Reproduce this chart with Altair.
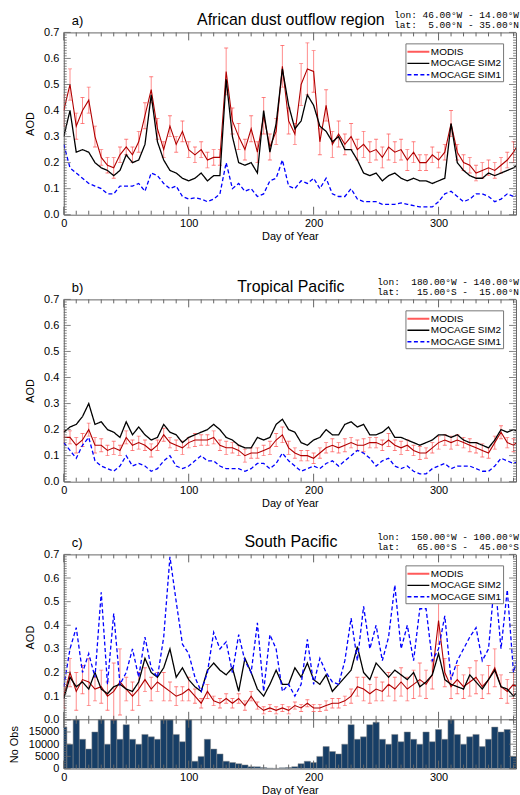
import altair as alt
import pandas as pd

# ---------------- data ----------------
DAYS = list(range(0, 366, 5))
SERIES = ["MODIS", "MOCAGE SIM2", "MOCAGE SIM1"]
SERIES_COLORS = ["#ff4a4a", "#000000", "#0000ff"]
SERIES_DASHES = [[1, 0], [1, 0], [4, 2.5]]

# a) African dust outflow region
A_MODIS = [0.40, 0.50, 0.34, 0.40, 0.44, 0.30, 0.22, 0.19, 0.18, 0.23,
           0.26, 0.23, 0.28, 0.38, 0.48, 0.33, 0.25, 0.34, 0.27, 0.32,
           0.25, 0.23, 0.25, 0.21, 0.22, 0.22, 0.55, 0.36, 0.30, 0.25,
           0.33, 0.24, 0.38, 0.26, 0.32, 0.57, 0.36, 0.31, 0.50, 0.56,
           0.55, 0.28, 0.42, 0.27, 0.31, 0.27, 0.30, 0.25, 0.27, 0.24,
           0.25, 0.22, 0.26, 0.24, 0.25, 0.21, 0.24, 0.20, 0.20, 0.23,
           0.21, 0.24, 0.35, 0.24, 0.20, 0.19, 0.16, 0.17, 0.18, 0.17,
           0.19, 0.21, 0.24, 0.28]
A_SIM2 = [0.30, 0.40, 0.24, 0.25, 0.24, 0.20, 0.18, 0.17, 0.15, 0.17,
          0.23, 0.20, 0.21, 0.27, 0.46, 0.28, 0.21, 0.17, 0.16, 0.14,
          0.13, 0.14, 0.16, 0.13, 0.15, 0.15, 0.52, 0.30, 0.20, 0.19,
          0.20, 0.16, 0.40, 0.24, 0.35, 0.56, 0.42, 0.33, 0.36, 0.46,
          0.42, 0.34, 0.32, 0.28, 0.30, 0.25, 0.25, 0.21, 0.16, 0.15,
          0.16, 0.13, 0.15, 0.16, 0.14, 0.13, 0.14, 0.13, 0.13, 0.12,
          0.13, 0.14, 0.35, 0.20, 0.17, 0.15, 0.14, 0.14, 0.16, 0.15,
          0.16, 0.17, 0.18, 0.20]
A_SIM1 = [0.27, 0.18, 0.16, 0.14, 0.12, 0.11, 0.10, 0.08, 0.08, 0.11,
          0.11, 0.11, 0.12, 0.09, 0.16, 0.15, 0.12, 0.10, 0.11, 0.07,
          0.06, 0.065, 0.06, 0.05, 0.06, 0.08, 0.20, 0.10, 0.12, 0.09,
          0.10, 0.07, 0.08, 0.13, 0.14, 0.21, 0.11, 0.10, 0.13, 0.12,
          0.14, 0.10, 0.14, 0.08, 0.07, 0.07, 0.10, 0.06, 0.05, 0.05,
          0.05, 0.04, 0.04, 0.04, 0.045, 0.04, 0.035, 0.03, 0.03, 0.03,
          0.05, 0.08, 0.09, 0.07, 0.05, 0.06, 0.08, 0.08, 0.07, 0.05,
          0.06, 0.08, 0.07, 0.08]
A_ERR = [0.06, 0.06, 0.05, 0.05, 0.05, 0.04, 0.03, 0.03, 0.04, 0.03,
         0.03, 0.03, 0.04, 0.05, 0.05, 0.04, 0.03, 0.04, 0.03, 0.04,
         0.03, 0.03, 0.03, 0.03, 0.03, 0.03, 0.09, 0.05, 0.05, 0.04,
         0.05, 0.04, 0.07, 0.05, 0.05, 0.08, 0.05, 0.04, 0.08, 0.10,
         0.08, 0.05, 0.06, 0.05, 0.05, 0.04, 0.05, 0.04, 0.05, 0.04,
         0.04, 0.04, 0.05, 0.04, 0.04, 0.04, 0.04, 0.03, 0.03, 0.03,
         0.03, 0.03, 0.05, 0.03, 0.03, 0.03, 0.03, 0.03, 0.03, 0.03,
         0.03, 0.03, 0.04, 0.04]

# b) Tropical Pacific
B_MODIS = [0.17, 0.17, 0.14, 0.16, 0.20, 0.14, 0.14, 0.12, 0.13, 0.12,
           0.17, 0.14, 0.15, 0.14, 0.12, 0.14, 0.18, 0.15, 0.14, 0.13,
           0.15, 0.16, 0.16, 0.16, 0.17, 0.14, 0.13, 0.13, 0.12, 0.10,
           0.11, 0.11, 0.12, 0.13, 0.16, 0.18, 0.13, 0.11, 0.10, 0.10,
           0.09, 0.11, 0.13, 0.14, 0.13, 0.14, 0.15, 0.14, 0.14, 0.15,
           0.15, 0.14, 0.16, 0.14, 0.13, 0.14, 0.12, 0.11, 0.11, 0.13,
           0.15, 0.16, 0.15, 0.16, 0.15, 0.14, 0.13, 0.12, 0.11, 0.15,
           0.19, 0.15, 0.14, 0.16]
B_SIM2 = [0.19, 0.21, 0.22, 0.25, 0.30, 0.22, 0.23, 0.20, 0.19, 0.17,
          0.23, 0.18, 0.21, 0.18, 0.16, 0.17, 0.22, 0.19, 0.18, 0.15,
          0.17, 0.18, 0.19, 0.20, 0.22, 0.20, 0.17, 0.16, 0.14, 0.13,
          0.13, 0.17, 0.16, 0.17, 0.22, 0.24, 0.20, 0.19, 0.15, 0.14,
          0.16, 0.17, 0.20, 0.18, 0.18, 0.22, 0.23, 0.21, 0.22, 0.18,
          0.18, 0.19, 0.21, 0.17, 0.17, 0.16, 0.15, 0.14, 0.15, 0.16,
          0.18, 0.18, 0.17, 0.18, 0.16, 0.15, 0.15, 0.14, 0.13, 0.16,
          0.20, 0.19, 0.20, 0.19]
B_SIM1 = [0.15, 0.12, 0.09, 0.14, 0.17, 0.08, 0.06, 0.05, 0.04, 0.06,
          0.10, 0.06, 0.07, 0.06, 0.04, 0.05, 0.08, 0.10, 0.06, 0.05,
          0.06, 0.08, 0.10, 0.08, 0.08, 0.06, 0.05, 0.05, 0.05, 0.04,
          0.05, 0.07, 0.07, 0.05, 0.07, 0.11, 0.08, 0.06, 0.04, 0.05,
          0.06, 0.05, 0.07, 0.08, 0.06, 0.08, 0.10, 0.12, 0.11, 0.09,
          0.06, 0.08, 0.09, 0.06, 0.05, 0.06, 0.04, 0.03, 0.03, 0.05,
          0.06, 0.07, 0.05, 0.06, 0.06, 0.06, 0.05, 0.04, 0.04, 0.06,
          0.09, 0.08, 0.07, 0.08]
B_ERR = [0.025, 0.025, 0.03, 0.025, 0.025, 0.03, 0.025, 0.02, 0.025, 0.02,
         0.025, 0.02, 0.025, 0.02, 0.025, 0.02, 0.025, 0.02, 0.02, 0.025,
         0.02, 0.025, 0.02, 0.02, 0.025, 0.02, 0.025, 0.02, 0.02, 0.025,
         0.02, 0.02, 0.02, 0.025, 0.025, 0.03, 0.025, 0.02, 0.02, 0.02,
         0.02, 0.02, 0.02, 0.025, 0.02, 0.025, 0.02, 0.02, 0.025, 0.02,
         0.02, 0.02, 0.025, 0.02, 0.025, 0.02, 0.02, 0.025, 0.02, 0.02,
         0.025, 0.02, 0.025, 0.02, 0.02, 0.025, 0.02, 0.025, 0.02, 0.025,
         0.025, 0.02, 0.025, 0.02]

# c) South Pacific
C_MODIS = [0.10, 0.20, 0.12, 0.17, 0.16, 0.13, 0.14, 0.10, 0.12, 0.16,
           0.13, 0.10, 0.13, 0.17, 0.13, 0.16, 0.14, 0.12, 0.10, 0.11,
           0.13, 0.10, 0.07, 0.12, 0.08, 0.07, 0.09, 0.07, 0.09, 0.06,
           0.10, 0.06, 0.04, 0.05, 0.04, 0.05, 0.04, 0.06, 0.05, 0.07,
           0.05, 0.05, 0.06, 0.07, 0.07, 0.08, 0.10, 0.14, 0.13, 0.11,
           0.13, 0.12, 0.15, 0.13, 0.16, 0.13, 0.15, 0.17, 0.15, 0.19,
           0.42, 0.20, 0.14, 0.17, 0.14, 0.16, 0.18, 0.14, 0.17, 0.22,
           0.14, 0.12, 0.15, 0.13]
C_SIM2 = [0.09, 0.18, 0.14, 0.16, 0.13, 0.20, 0.13, 0.11, 0.14, 0.15,
          0.13, 0.12, 0.16, 0.26, 0.20, 0.18, 0.22, 0.30, 0.18, 0.22,
          0.17, 0.14, 0.12, 0.21, 0.24, 0.21, 0.19, 0.22, 0.12, 0.26,
          0.20, 0.13, 0.10, 0.15, 0.21, 0.15, 0.15, 0.22, 0.18, 0.24,
          0.17, 0.15, 0.19, 0.12, 0.15, 0.18, 0.21, 0.31, 0.20, 0.17,
          0.24, 0.21, 0.18, 0.21, 0.19, 0.17, 0.20, 0.14, 0.16, 0.19,
          0.28, 0.17, 0.15, 0.14, 0.13, 0.19, 0.16, 0.13, 0.17, 0.21,
          0.14, 0.13, 0.10, 0.13]
C_SIM1 = [0.14, 0.30, 0.39, 0.20, 0.28, 0.18, 0.54, 0.15, 0.45, 0.15,
          0.20, 0.30, 0.18, 0.35, 0.22, 0.18, 0.35, 0.69, 0.50, 0.32,
          0.28, 0.18, 0.12, 0.20, 0.37, 0.30, 0.33, 0.20, 0.36, 0.25,
          0.20, 0.41, 0.12, 0.36, 0.30, 0.12, 0.15, 0.10, 0.15, 0.34,
          0.15, 0.26, 0.20, 0.16, 0.15, 0.25, 0.43, 0.25, 0.48, 0.30,
          0.40, 0.25, 0.35, 0.57, 0.30, 0.40, 0.25, 0.47, 0.47, 0.25,
          0.30, 0.44, 0.17, 0.25, 0.30, 0.35, 0.39, 0.25, 0.30, 0.60,
          0.30, 0.55, 0.20, 0.30]
C_ERR = [0.05, 0.06, 0.08, 0.06, 0.10, 0.05, 0.07, 0.06, 0.12, 0.14,
         0.05, 0.06, 0.07, 0.05, 0.05, 0.04, 0.06, 0.04, 0.04, 0.03,
         0.05, 0.03, 0.02, 0.03, 0.02, 0.02, 0.02, 0.02, 0.02, 0.02,
         0.02, 0.015, 0.015, 0.015, 0.015, 0.015, 0.015, 0.015, 0.015, 0.015,
         0.015, 0.015, 0.02, 0.02, 0.02, 0.02, 0.03, 0.04, 0.05, 0.04,
         0.05, 0.04, 0.05, 0.05, 0.06, 0.05, 0.06, 0.07, 0.06, 0.06,
         0.10, 0.06, 0.05, 0.06, 0.05, 0.06, 0.07, 0.05, 0.06, 0.08,
         0.05, 0.05, 0.06, 0.05]
C_OBS = [17000, 10000, 20000, 12000, 8000, 15000, 20000, 10000, 20000, 12000,
         18000, 12000, 10000, 14000, 13000, 12000, 20000, 20000, 14000, 11000,
         20000, 3000, 5000, 12000, 8000, 6000, 3000, 2500, 2000, 1500,
         800, 700, 400, 200, 100, 300, 400, 800, 2000, 3000,
         2500, 5000, 9000, 7000, 6000, 10000, 18000, 12000, 13000, 18000,
         19000, 12000, 10000, 14000, 11000, 15000, 12000, 10000, 15000, 11000,
         16000, 12000, 20000, 14000, 10000, 13000, 14000, 9000, 12000, 17000,
         15000, 16000, 5000, 8000]

AOD_LABELS = [0.0, 0.1, 0.2, 0.3, 0.4, 0.5, 0.6, 0.7]
OBS_LABELS = [0, 5000, 10000, 15000]
DAY_LABELS = [0, 100, 200, 300]

# ---------------- styling ----------------
W = 454
XMAX = 362
H_A, H_B, H_C, H_BAR = 183, 183, 166, 49
H_CB = H_C + H_BAR
FONT = "Liberation Sans"
MONO = "Liberation Mono"
FRAME = "#666666"
ERR_COLOR = "#ff4a4a"
MODIS_LINE = "#b00000"
BAR_FILL = "#173e66"
LEG_STYLE = [("#ff5a5a", [1, 0], 2.0), ("#000000", [1, 0], 1.3), ("#0000ff", [4, 2.5], 1.5)]

XS = alt.Scale(domain=[0, XMAX], nice=False, zero=False)

XT_MAJOR = pd.DataFrame({"t": DAY_LABELS})
XT_MINOR = pd.DataFrame({"t": [t for t in range(10, 361, 10) if t % 100]})
AOD_MAJ = [round(k / 10, 1) for k in range(8)]
AOD_MIN = [round(k / 100, 2) for k in range(71) if k % 10]
OBS_MAJ = [0, 5000, 10000, 15000, 20000]
OBS_MIN = [v for v in range(1000, 20000, 1000) if v % 5000]
ONE = pd.DataFrame({"k": [0]})


def x_axis():
    return alt.Axis(values=DAY_LABELS, format="d", title="Day of Year",
                    labelPadding=3, titlePadding=2, labelFlush=False,
                    labelOverlap=False)


def aod_axis(h):
    return alt.Axis(values=AOD_LABELS, format=".1f", title="AOD", orient="left",
                    titleX=-33, titleY=h / 2, titleBaseline="middle",
                    labelPadding=5, labelFlush=False, labelOverlap=False)


def X(field):
    return alt.X(field, scale=XS, axis=x_axis())


def aod_layers(modis, sim2, sim1, err, ys, yax, yax_main):
    mod = pd.DataFrame({
        "day": DAYS, "aod": modis,
        "lo": [max(0.0, m - e) for m, e in zip(modis, err)],
        "hi": [m + e for m, e in zip(modis, err)],
        "series": SERIES[0]})
    sims = pd.DataFrame({
        "day": DAYS + DAYS, "aod": sim2 + sim1,
        "series": [SERIES[1]] * len(DAYS) + [SERIES[2]] * len(DAYS)})
    color = alt.Color("series:N", scale=alt.Scale(domain=SERIES, range=SERIES_COLORS),
                      legend=None)
    dash = alt.StrokeDash("series:N", scale=alt.Scale(domain=SERIES, range=SERIES_DASHES),
                          legend=None)
    err_rule = alt.Chart(mod).mark_rule(strokeWidth=0.9, opacity=0.7, clip=True).encode(
        x=X("day:Q"), y=alt.Y("lo:Q", scale=ys, axis=yax), y2="hi:Q", color=color)
    caps = [alt.Chart(mod).mark_tick(orient="horizontal", size=4, thickness=0.9,
                                     color=ERR_COLOR, opacity=0.7, clip=True).encode(
        x=X("day:Q"), y=alt.Y(f"{f}:Q", scale=ys, axis=yax)) for f in ("lo", "hi")]
    modis_line = alt.Chart(mod).mark_line(color=MODIS_LINE, strokeWidth=1.1, clip=True).encode(
        x=X("day:Q"), y=alt.Y("aod:Q", scale=ys, axis=yax_main))
    sim_lines = alt.Chart(sims).mark_line(strokeWidth=1.3, clip=True).encode(
        x=X("day:Q"), y=alt.Y("aod:Q", scale=ys, axis=yax), color=color, strokeDash=dash)
    return [err_rule] + caps + [modis_line, sim_lines]


def xticks(y_edge, sign):
    out = []
    for df, ln in ((XT_MAJOR, 8), (XT_MINOR, 4)):
        out.append(alt.Chart(df).mark_rule(color=FRAME, strokeWidth=1).encode(
            x=X("t:Q"), y=alt.value(y_edge), y2=alt.value(y_edge + sign * ln)))
    return out


def yticks(ys, yax, major, minor):
    out = []
    for vals, ln in ((major, 7), (minor, 3)):
        df = pd.DataFrame({"v": vals})
        out.append(alt.Chart(df).mark_rule(color=FRAME, strokeWidth=0.8).encode(
            y=alt.Y("v:Q", scale=ys, axis=yax), x=alt.value(0), x2=alt.value(ln)))
        out.append(alt.Chart(df).mark_rule(color=FRAME, strokeWidth=0.8).encode(
            y=alt.Y("v:Q", scale=ys, axis=yax), x=alt.value(W), x2=alt.value(W - ln)))
    return out


def txt(s, x, y, align, font, size, baseline="alphabetic"):
    return alt.Chart(pd.DataFrame({"s": [s]})).mark_text(
        align=align, baseline=baseline, font=font, fontSize=size, color="black").encode(
        x=alt.value(x), y=alt.value(y), text="s:N")


def header(letter, title, lon, lat):
    nb = lambda s: s.replace(" ", "\u00a0")
    return [txt(letter, 8, -7, "left", FONT, 13),
            txt(title, 228, -7, "center", FONT, 16),
            txt(nb(lon), 457, -14, "right", MONO, 9.5),
            txt(nb(lat), 457, -4, "right", MONO, 9.5)]


def legend_box():
    out = [alt.Chart(ONE).mark_rect(fill="white", stroke="#777777", strokeWidth=1).encode(
        x=alt.value(343.5), x2=alt.value(441.5), y=alt.value(11.5), y2=alt.value(49.5))]
    for i, (name, (col, dsh, sw)) in enumerate(zip(SERIES, LEG_STYLE)):
        yy = 19.5 + 11.5 * i
        out.append(alt.Chart(ONE).mark_rule(color=col, strokeDash=dsh, strokeWidth=sw).encode(
            x=alt.value(345), x2=alt.value(367), y=alt.value(yy)))
        out.append(txt(name, 368.5, yy, "left", FONT, 10, "middle"))
    return out


def bound(y0, y1):
    return alt.Chart(ONE).mark_rule(opacity=0, strokeWidth=1).encode(
        x=alt.value(-63), y=alt.value(y0), y2=alt.value(y1))


# ---------------- panel a ----------------
ys_a = alt.Scale(domain=[0, 0.7], nice=False, zero=False)
ax_a = aod_axis(H_A)
pa = alt.layer(*(aod_layers(A_MODIS, A_SIM2, A_SIM1, A_ERR, ys_a, ax_a, ax_a)
                 + xticks(0, 1) + xticks(H_A, -1) + yticks(ys_a, ax_a, AOD_MAJ, AOD_MIN)
                 + legend_box()
                 + header("a)", "African dust outflow region",
                          "lon: 46.00°W - 14.00°W", "lat:  5.00°N - 35.00°N")
                 + [bound(-30, H_A + 50)])).properties(width=W, height=H_A)

# ---------------- panel b ----------------
ys_b = alt.Scale(domain=[0, 0.7], nice=False, zero=False)
ax_b = aod_axis(H_B)
pb = alt.layer(*(aod_layers(B_MODIS, B_SIM2, B_SIM1, B_ERR, ys_b, ax_b, ax_b)
                 + xticks(0, 1) + xticks(H_B, -1) + yticks(ys_b, ax_b, AOD_MAJ, AOD_MIN)
                 + legend_box()
                 + header("b)", "Tropical Pacific",
                          "lon:  180.00°W - 140.00°W", "lat:   15.00°S -  15.00°N")
                 + [bound(-33, H_B + 39)])).properties(width=W, height=H_B)

# ---------------- panel c (+ number of observations) ----------------
ys_c = alt.Scale(domain=[0, 0.7], nice=False, zero=False, range=[H_C, 0])
bs_c = alt.Scale(domain=[0, 20000], nice=False, zero=False, range=[H_CB, H_C])
obs_df = pd.DataFrame({"day": DAYS, "obs": C_OBS})
bars = alt.Chart(obs_df).transform_calculate(
    x0="datum.day - 2.5", x1="datum.day + 2.5").mark_bar(
    color=BAR_FILL, stroke="#8c8c8c", strokeWidth=0.5, clip=True).encode(
    x=X("x0:Q"), x2="x1:Q",
    y=alt.Y("obs:Q", scale=bs_c,
            axis=alt.Axis(values=OBS_LABELS, format="d", title="No Obs", orient="left",
                          titleX=-49.5, titleY=(H_C + H_CB) / 2, titleBaseline="middle",
                          labelPadding=5, labelFlush=False, labelOverlap=False)),
    y2=alt.datum(0))
sep = alt.Chart(ONE).mark_rule(color=FRAME, strokeWidth=1).encode(
    x=alt.value(0), x2=alt.value(W), y=alt.value(H_C))
pc = alt.layer(*([bars] + aod_layers(C_MODIS, C_SIM2, C_SIM1, C_ERR, ys_c, None, aod_axis(H_C))
                 + xticks(0, 1) + xticks(H_C, -1) + xticks(H_C, 1) + xticks(H_CB, -1)
                 + yticks(ys_c, None, AOD_MAJ, AOD_MIN) + yticks(bs_c, None, OBS_MAJ, OBS_MIN)
                 + [sep] + legend_box()
                 + header("c)", "South Pacific",
                          "lon:  150.00°W - 100.00°W", "lat:   65.00°S -  45.00°S")
                 + [bound(-32, H_CB)])).properties(width=W, height=H_CB).resolve_scale(
    y="independent")

chart = alt.vconcat(pa, pb, pc, spacing=0, padding=0)
chart = chart.configure(font=FONT).configure_view(stroke=FRAME, strokeWidth=1).configure_axis(
    labelFont=FONT, titleFont=FONT, labelColor="black", titleColor="black",
    labelFontSize=11, titleFontSize=11, titleFontWeight="normal",
    domain=False, ticks=False, tickSize=0, grid=False)

chart.save("out.html", embed_options={"renderer": "svg", "actions": False})
